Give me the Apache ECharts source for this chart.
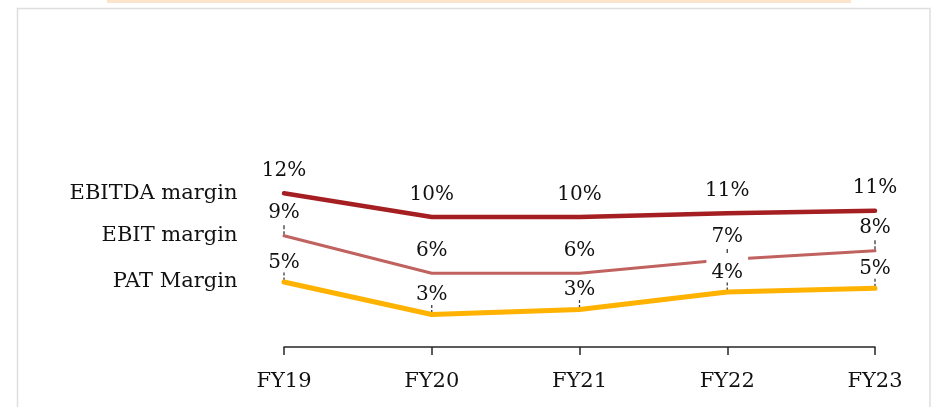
<!DOCTYPE html>
<html>
<head>
<meta charset="utf-8">
<script src="https://cdn.jsdelivr.net/npm/echarts@6/dist/echarts.min.js"></script>
<style>
  html, body { margin: 0; padding: 0; background: #fff; }
  #chart { width: 932px; height: 407px; }
</style>
</head>
<body>
<div id="chart"></div>
<script>
// Fiscal years on the x axis
const categories = ['FY19', 'FY20', 'FY21', 'FY22', 'FY23'];

// Margins in percent
const ebitdaMargin = [12.3, 10.4, 10.4, 10.7, 10.9];
const ebitMargin   = [8.9, 5.9, 5.9, 7.0, 7.7];
const patMargin    = [5.2, 2.6, 3.0, 4.4, 4.7];

const seriesNames = ['EBITDA margin', 'EBIT margin', 'PAT Margin'];

const FONT = '"DejaVu Serif", "Liberation Serif", serif';
const chart = echarts.init(document.getElementById('chart'), null, { renderer: 'canvas' });

// One line series with its value labels and a name label beside the first point.
// `tallBox` lists points whose white label box reaches higher (to mask the line above).
function makeSeries(name, values, color, width, labelBg, tallBox) {
  return {
    name: name,
    type: 'line',
    z: 3,
    data: values.map((v, i) => (tallBox.indexOf(i) >= 0
      ? { value: v, label: { padding: [8, 5, 0, 5] } }
      : v)),
    symbol: 'circle',
    symbolSize: 1,
    itemStyle: { color: color },
    lineStyle: { color: color, width: width, cap: 'round', join: 'round' },
    label: {
      show: true,
      position: 'top',
      distance: labelBg ? 9 : 12,
      formatter: p => Math.round(p.value) + '%',
      fontFamily: FONT,
      fontSize: 20,
      color: '#111',
      backgroundColor: labelBg,
      padding: labelBg ? [5, 5, 0, 5] : 0
    },
    markPoint: {
      silent: true,
      symbol: 'circle',
      symbolSize: 1,
      itemStyle: { color: 'rgba(0,0,0,0)' },
      label: {
        show: true,
        position: 'left',
        distance: 46,
        formatter: () => name,
        fontFamily: FONT,
        fontSize: 21,
        color: '#111'
      },
      data: [{ coord: [categories[0], values[0]] }]
    }
  };
}

// Short dashed guides between a value label and its point
function makeLeaders(values, indices) {
  return {
    type: 'custom',
    z: 1,
    silent: true,
    data: indices.map(i => [i, values[i]]),
    renderItem: (params, api) => {
      const pt = api.coord([api.value(0), api.value(1)]);
      return {
        type: 'line',
        shape: { x1: pt[0], y1: pt[1] - 10.5, x2: pt[0], y2: pt[1] - 1 },
        style: { stroke: '#3a3a3a', lineWidth: 1.3, lineDash: [4, 2] }
      };
    }
  };
}

chart.setOption({
  backgroundColor: '#fff',
  animation: false,
  grid: { left: 284, right: 57, top: 97, bottom: 60 },
  xAxis: {
    type: 'category',
    data: categories,
    boundaryGap: false,
    axisLine: { lineStyle: { color: '#262626', width: 1.5 } },
    axisTick: { show: true, length: 8, lineStyle: { color: '#262626', width: 1.5 } },
    axisLabel: { fontFamily: FONT, fontSize: 21, color: '#111', margin: 24 },
    splitLine: { show: false }
  },
  yAxis: {
    type: 'value',
    min: 0,
    max: 20,
    show: false
  },
  graphic: [
    {
      type: 'rect',
      silent: true,
      shape: { x: 107, y: 0, width: 744, height: 3 },
      style: { fill: '#fce4cc' }
    },
    {
      type: 'rect',
      silent: true,
      shape: { x: 17.5, y: 8.5, width: 912.5, height: 420 },
      style: { fill: 'none', stroke: '#dedede', lineWidth: 1.5 }
    }
  ],
  series: [
    makeLeaders(ebitMargin, [0, 3, 4]),
    makeLeaders(patMargin, [0, 1, 2, 3, 4]),
    makeSeries(seriesNames[0], ebitdaMargin, '#a51f22', 4.5, null, []),
    makeSeries(seriesNames[1], ebitMargin, '#c0625f', 3, null, []),
    makeSeries(seriesNames[2], patMargin, '#ffb300', 5, '#ffffff', [3])
  ]
});
</script>
</body>
</html>
